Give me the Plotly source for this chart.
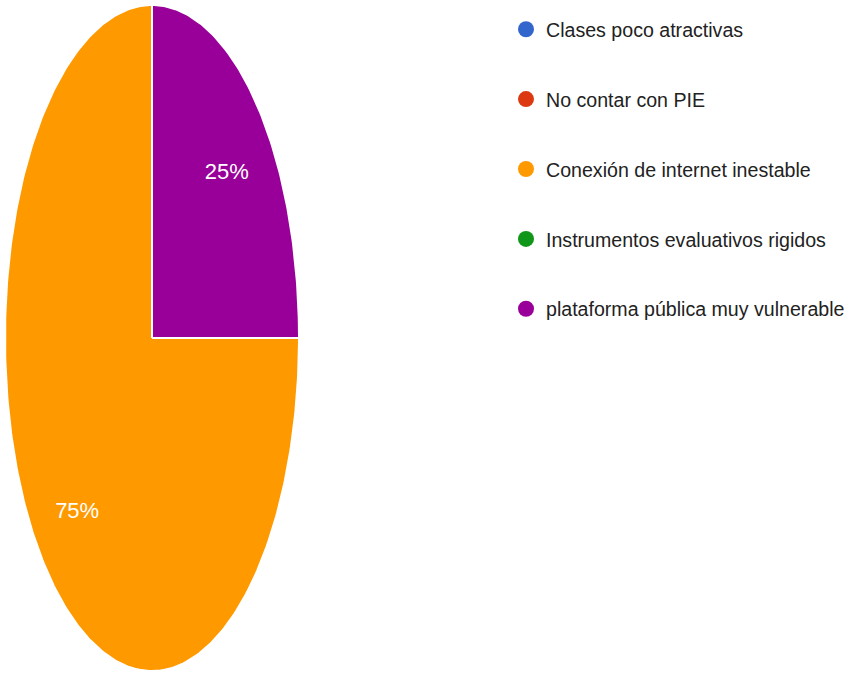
import numpy as np
import plotly.graph_objects as go

categories = [
    "Clases poco atractivas",
    "No contar con PIE",
    "Conexión de internet inestable",
    "Instrumentos evaluativos rigidos",
    "plataforma pública muy vulnerable",
]
values = [0, 0, 75, 0, 25]
colors = ["#3366cc", "#dc3912", "#ff9900", "#109618", "#990099"]

FONT = "Liberation Sans, Arial, sans-serif"

fig = go.Figure()

total = float(sum(values))
start = 0.0  # 3 o'clock, going clockwise
label_r = 0.72
for cat, val, col in zip(categories, values, colors):
    frac = val / total
    if frac > 0:
        a0 = start
        a1 = start - frac * 2 * np.pi
        th = np.linspace(a0, a1, max(int(frac * 400), 8))
        xs = np.concatenate([[0], np.cos(th), [0]])
        ys = np.concatenate([[0], np.sin(th), [0]])
        fig.add_trace(go.Scatter(
            x=xs, y=ys, mode="lines", fill="toself", fillcolor=col,
            line=dict(color="white", width=2), showlegend=False,
            hoverinfo="skip"))
        mid = (a0 + a1) / 2
        fig.add_trace(go.Scatter(
            x=[label_r * np.cos(mid)], y=[label_r * np.sin(mid) - 0.015],
            mode="text", text=[f"{val / total * 100:.0f}%"],
            textfont=dict(family=FONT, size=22, color="white"),
            showlegend=False, hoverinfo="skip"))
    start -= frac * 2 * np.pi

for cat, col in zip(categories, colors):
    fig.add_trace(go.Scatter(
        x=[None], y=[None], mode="markers", name=cat, legendgroup=cat,
        marker=dict(color=col, size=16, symbol="circle")))

fig.update_layout(
    width=848, height=673,
    margin=dict(l=0, r=0, t=0, b=0, autoexpand=False),
    paper_bgcolor="white", plot_bgcolor="white",
    hovermode=False,
    xaxis=dict(domain=[5 / 848, 299 / 848], range=[-1, 1], visible=False, fixedrange=True),
    yaxis=dict(domain=[1 - 671 / 673, 1 - 5 / 673], range=[-1, 1], visible=False, fixedrange=True),
    legend=dict(
        x=506 / 848, y=1 - 10 / 673, xanchor="left", yanchor="top",
        font=dict(family=FONT, size=19.6, color="#222222"),
        tracegroupgap=41.4, itemsizing="trace", bgcolor="rgba(0,0,0,0)",
    ),
)

fig.write_html("out.html", config={"displayModeBar": False},
               post_script="document.body.style.margin='0';")
